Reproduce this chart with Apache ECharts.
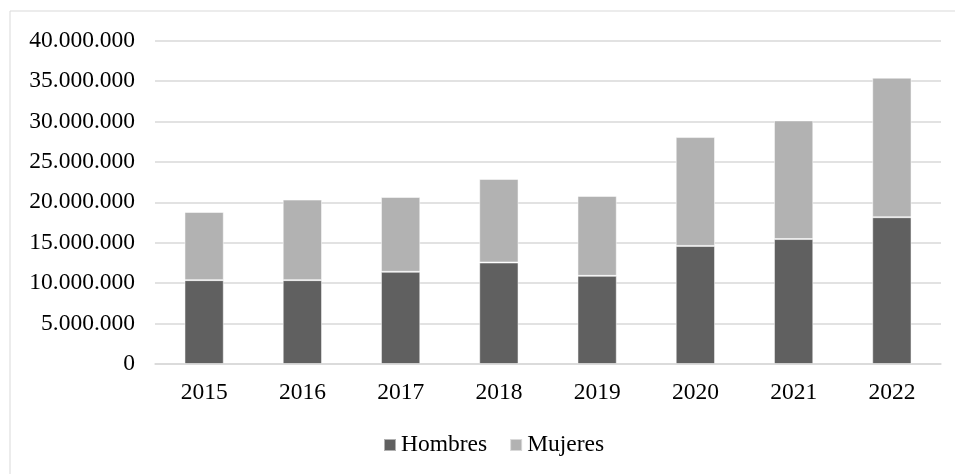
<!DOCTYPE html>
<html>
<head>
<meta charset="utf-8">
<script src="https://cdn.jsdelivr.net/npm/echarts@6/dist/echarts.min.js"></script>
<style>
  html, body { margin: 0; padding: 0; background: #ffffff; }
  #chart { width: 955px; height: 474px; }
</style>
</head>
<body>
<div id="chart"></div>
<script>
// Años
const years = ['2015', '2016', '2017', '2018', '2019', '2020', '2021', '2022'];
// Hombres por año
const hombres = [10370000, 10370000, 11400000, 12550000, 10900000, 14600000, 15450000, 18150000];
// Mujeres por año
const mujeres = [8430000, 9960000, 9250000, 10330000, 9880000, 13460000, 14670000, 17250000];
// Escala del eje vertical
const yMin = 0;
const yMax = 40000000;
const yStep = 5000000;

const FONT = '"Liberation Serif", "Times New Roman", serif';

function miles(v) {
  return String(Math.round(v)).replace(/\B(?=(\d{3})+(?!\d))/g, '.');
}

const chart = echarts.init(document.getElementById('chart'), null, { renderer: 'canvas' });

chart.setOption({
  animation: false,
  backgroundColor: '#ffffff',
  graphic: [{
    type: 'rect',
    shape: { x: 10, y: 11, width: 1000, height: 500 },
    style: { fill: 'none', stroke: '#d9d9d9', lineWidth: 1 },
    silent: true
  }],
  grid: { left: 155, right: 14, top: 40.5, bottom: 110, containLabel: false },
  legend: {
    data: ['Hombres', 'Mujeres'],
    left: 378,
    top: 427,
    itemWidth: 12,
    itemHeight: 12,
    itemGap: 22,
    icon: 'rect',
    textStyle: { fontFamily: FONT, fontSize: 23.5, color: '#000000', lineHeight: 26 }
  },
  xAxis: {
    type: 'category',
    data: years,
    axisLine: { show: true, lineStyle: { color: '#d9d9d9', width: 1.5 } },
    axisTick: { show: false },
    axisLabel: { fontFamily: FONT, fontSize: 23.5, color: '#000000', margin: 17 }
  },
  yAxis: {
    type: 'value',
    min: yMin,
    max: yMax,
    interval: yStep,
    axisLine: { show: false },
    axisTick: { show: false },
    splitLine: { lineStyle: { color: '#d9d9d9', width: 1.5 } },
    axisLabel: { fontFamily: FONT, fontSize: 23.5, color: '#000000', margin: 20, formatter: miles }
  },
  series: [
    {
      name: 'Hombres',
      type: 'bar',
      stack: 'total',
      data: hombres,
      barWidth: '40%',
      itemStyle: { color: '#606060', borderColor: 'rgba(255,255,255,0.5)', borderWidth: 1 }
    },
    {
      name: 'Mujeres',
      type: 'bar',
      stack: 'total',
      data: mujeres,
      barWidth: '40%',
      itemStyle: { color: '#b2b2b2', borderColor: 'rgba(255,255,255,0.5)', borderWidth: 1 }
    }
  ]
});
</script>
</body>
</html>
